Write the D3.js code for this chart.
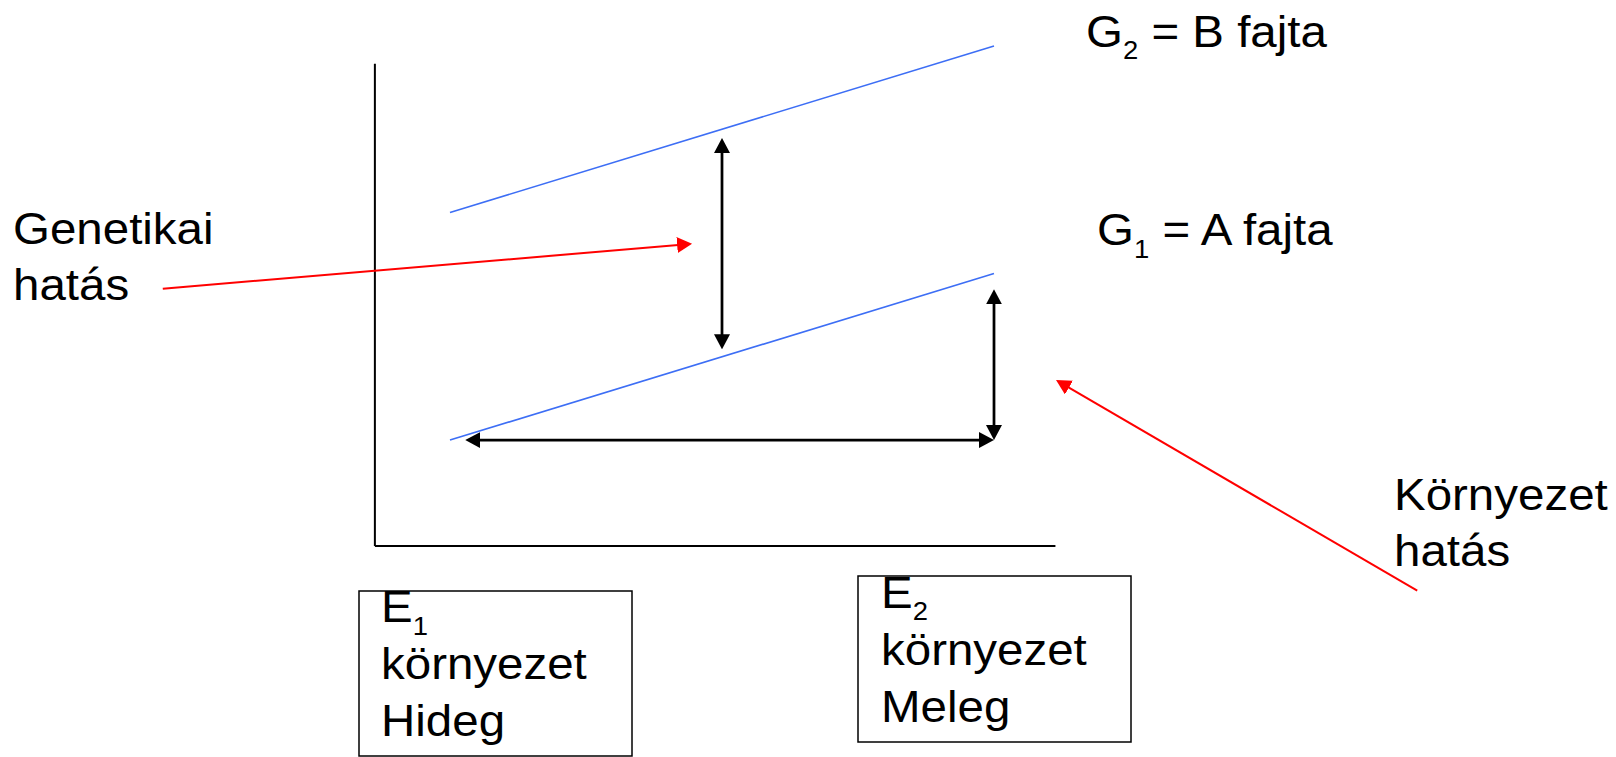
<!DOCTYPE html>
<html>
<head>
<meta charset="utf-8">
<script src="https://cdn.jsdelivr.net/npm/d3@7"></script>
<style>
  html, body { margin: 0; padding: 0; background: #fff; }
  svg { display: block; font-family: "Liberation Sans", Arial, sans-serif; }
</style>
</head>
<body>
<div id="chart-container"></div>
<script>
// genotype x environment sketch: two varieties, two environments
const environments = [0, 1];            // E1 (hideg), E2 (meleg)
const g1Values = [1.9, 4.9];            // G1 = A fajta
const g2Values = [6, 9];                // G2 = B fajta
const xAxisExtent = [-0.139, 1.112];
const yAxisExtent = [0, 8.69];

// annotation arrows, in data units
const blackArrows = [
    { x1: 0.5, y1: 3.535, x2: 0.5, y2: 7.342 },   // genetic effect
    { x1: 1, y1: 1.9, x2: 1, y2: 4.616 },         // environment effect (vertical)
    { x1: 0.028, y1: 1.9, x2: 1, y2: 1.9 }         // environment change (horizontal)
];
const redArrows = [
    { x1: -0.528, y1: 4.627, x2: 0.445, y2: 5.436 },
    { x1: 1.778, y1: -0.814, x2: 1.114, y2: 2.982 }
];

// texts
const geneticLabel = ["Genetikai", "hatás"];
const envLabel = ["Környezet", "hatás"];
const seriesLabels = [
    { base: "G", sub: "2", rest: " = B fajta" },
    { base: "G", sub: "1", rest: " = A fajta" }
];
const envBoxes = [
    { base: "E", sub: "1", lines: ["környezet", "Hideg"] },
    { base: "E", sub: "2", lines: ["környezet", "Meleg"] }
];

const width = 1616, height = 757;
const fontSize = 45, subSize = 26, stretch = 1.055;

const svg = d3.select("#chart-container").append("svg")
    .attr("width", width)
    .attr("height", height);

const x = d3.scaleLinear().domain([0, 1]).range([450, 994]);
const y = d3.scaleLinear().domain([0, 9]).range([545.5, 46]);

// arrow heads
const defs = svg.append("defs");
function addMarker(id, color) {
    defs.append("marker")
        .attr("id", id)
        .attr("viewBox", "0 0 15 16")
        .attr("refX", 7)
        .attr("refY", 8)
        .attr("markerWidth", 15)
        .attr("markerHeight", 16)
        .attr("markerUnits", "userSpaceOnUse")
        .attr("orient", "auto-start-reverse")
        .append("path")
        .attr("d", "M0,0L15,8L0,16Z")
        .attr("fill", color);
}
addMarker("head-black", "#000");
addMarker("head-red", "#ff0000");

// axes (plain lines, no ticks)
const xa = d3.scaleLinear().domain(xAxisExtent).range(xAxisExtent.map(x));
const ya = d3.scaleLinear().domain(yAxisExtent).range(yAxisExtent.map(y));

svg.append("g")
    .attr("transform", `translate(0,${y(0)})`)
    .call(d3.axisBottom(xa).tickValues([]).tickSizeOuter(0))
    .select(".domain").attr("stroke", "#000").attr("stroke-width", 2);

svg.append("g")
    .attr("transform", `translate(${xa(xAxisExtent[0])},0)`)
    .call(d3.axisLeft(ya).tickValues([]).tickSizeOuter(0))
    .select(".domain").attr("stroke", "#000").attr("stroke-width", 2);

// variety lines
const line = d3.line().x(d => x(d[0])).y(d => y(d[1]));
svg.append("g")
    .selectAll("path")
    .data([g1Values, g2Values])
    .join("path")
    .attr("d", vals => line(environments.map((e, i) => [e, vals[i]])))
    .attr("fill", "none")
    .attr("stroke", "#3d6ef5")
    .attr("stroke-width", 1.6);

// shorten the shaft so it does not poke out of the head tip
function shaft(a, startHead) {
    const x1 = x(a.x1), y1 = y(a.y1), x2 = x(a.x2), y2 = y(a.y2);
    const len = Math.hypot(x2 - x1, y2 - y1);
    const ux = (x2 - x1) / len, uy = (y2 - y1) / len;
    const s = startHead ? 8 : 0;
    return { x1: x1 + ux * s, y1: y1 + uy * s, x2: x2 - ux * 8, y2: y2 - uy * 8 };
}

svg.append("g")
    .selectAll("line")
    .data(blackArrows.map(a => shaft(a, true)))
    .join("line")
    .attr("x1", d => d.x1).attr("y1", d => d.y1)
    .attr("x2", d => d.x2).attr("y2", d => d.y2)
    .attr("stroke", "#000")
    .attr("stroke-width", 2.75)
    .attr("marker-start", "url(#head-black)")
    .attr("marker-end", "url(#head-black)");

svg.append("g")
    .selectAll("line")
    .data(redArrows.map(a => shaft(a, false)))
    .join("line")
    .attr("x1", d => d.x1).attr("y1", d => d.y1)
    .attr("x2", d => d.x2).attr("y2", d => d.y2)
    .attr("stroke", "#ff0000")
    .attr("stroke-width", 2)
    .attr("marker-end", "url(#head-red)");

// text helpers
function textBlock(px, py, lines, spacing) {
    const t = svg.append("text")
        .attr("transform", `translate(${px},${py}) scale(${stretch},1)`)
        .attr("font-size", fontSize)
        .attr("fill", "#000");
    lines.forEach((l, i) => {
        t.append("tspan").attr("x", 0).attr("y", i * spacing).text(l);
    });
    return t;
}
function subLabel(px, py, d) {
    const t = svg.append("text")
        .attr("transform", `translate(${px},${py}) scale(${stretch},1)`)
        .attr("font-size", fontSize)
        .attr("fill", "#000");
    t.append("tspan").text(d.base);
    t.append("tspan").attr("font-size", subSize).attr("dy", 12.5).text(d.sub);
    if (d.rest) t.append("tspan").attr("dy", -12.5).text(d.rest);
    return t;
}

textBlock(13, 244, geneticLabel, 56);
textBlock(1394, 510, envLabel, 56);

subLabel(1086, 46.5, seriesLabels[0]);
subLabel(1097, 245, seriesLabels[1]);

// environment boxes
const boxLayout = [
    { left: 359, top: 591, right: 632, bottom: 756, tx: 381, ty: 622 },
    { left: 858, top: 576, right: 1131, bottom: 742, tx: 881, ty: 607.5 }
];
envBoxes.forEach((b, i) => {
    const L = boxLayout[i];
    svg.append("rect")
        .attr("x", L.left).attr("y", L.top)
        .attr("width", L.right - L.left).attr("height", L.bottom - L.top)
        .attr("fill", "none")
        .attr("stroke", "#000")
        .attr("stroke-width", 1.5);
    subLabel(L.tx, L.ty, b);
    b.lines.forEach((l, j) => textBlock(L.tx, L.ty + 57 * (j + 1), [l], 0));
});
</script>
</body>
</html>
